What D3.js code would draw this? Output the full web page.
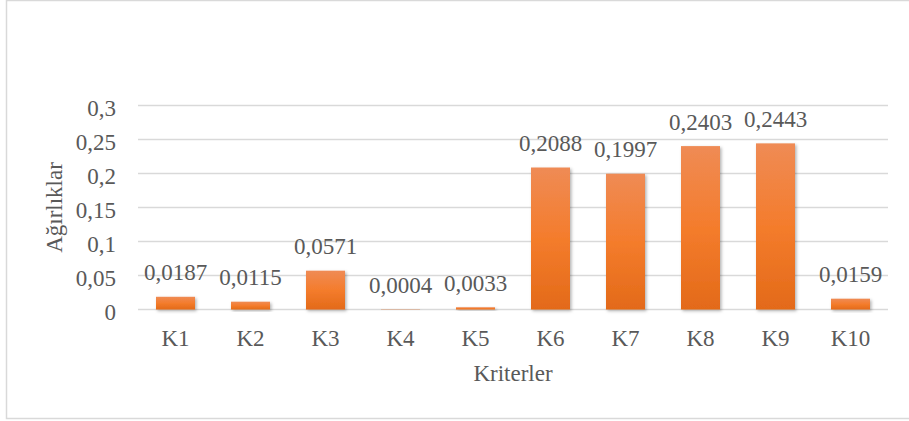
<!DOCTYPE html>
<html>
<head>
<meta charset="utf-8">
<script src="https://cdn.jsdelivr.net/npm/d3@7"></script>
<style>
  body { margin: 0; background: #fff; }
</style>
</head>
<body>
<script>
var categories = ["K1", "K2", "K3", "K4", "K5", "K6", "K7", "K8", "K9", "K10"];
var weights = [0.0187, 0.0115, 0.0571, 0.0004, 0.0033, 0.2088, 0.1997, 0.2403, 0.2443, 0.0159];
var yTicks = [0, 0.05, 0.1, 0.15, 0.2, 0.25, 0.3];
var xTitle = "Kriterler";
var yTitle = "Ağırlıklar";

var width = 909, height = 421;
var margin = {top: 105.5, right: 21, bottom: 111.5, left: 138};
var fontSize = 23;
var comma = function (v) { return String(v).replace(".", ","); };

var svg = d3.select("body").append("svg")
    .attr("width", width)
    .attr("height", height);

var defs = svg.append("defs");
var grad = defs.append("linearGradient")
    .attr("id", "barGrad")
    .attr("x1", 0).attr("y1", 0).attr("x2", 0).attr("y2", 1);
grad.append("stop").attr("offset", "0%").attr("stop-color", "#EF8B55");
grad.append("stop").attr("offset", "50%").attr("stop-color", "#F47C2C");
grad.append("stop").attr("offset", "100%").attr("stop-color", "#E36A19");

var shadow = defs.append("filter")
    .attr("id", "shadow")
    .attr("x", "-20%").attr("y", "-20%").attr("width", "150%").attr("height", "150%");
shadow.append("feDropShadow")
    .attr("dx", 1.5).attr("dy", 1.5)
    .attr("stdDeviation", 1.5)
    .attr("flood-color", "#000")
    .attr("flood-opacity", 0.3);

// chart border
svg.append("rect")
    .attr("x", 6.5).attr("y", 0.5)
    .attr("width", width + 10).attr("height", 418)
    .attr("fill", "none")
    .attr("stroke", "#D9D9D9")
    .attr("stroke-width", 1.5);

var x = d3.scaleBand()
    .domain(categories)
    .range([margin.left, width - margin.right])
    .paddingInner(0.48)
    .paddingOuter(0.24);

var y = d3.scaleLinear()
    .domain([0, 0.3])
    .range([height - margin.bottom, margin.top]);

function label(g, tx, ty, txt, anchor, rotate) {
    return g.append("text")
        .attr("x", rotate ? 0 : tx)
        .attr("y", rotate ? 0 : ty)
        .attr("transform", rotate ? "translate(" + tx + "," + ty + ") rotate(-90)" : null)
        .attr("text-anchor", anchor)
        .attr("font-size", fontSize)
        .attr("fill", "#595959")
        .style("font-family", "'Liberation Serif', serif")
        .text(txt);
}

// gridlines
var grid = svg.append("g");
grid.selectAll("line")
    .data(yTicks)
    .enter().append("line")
    .attr("x1", margin.left)
    .attr("x2", width - margin.right)
    .attr("y1", function (d) { return y(d); })
    .attr("y2", function (d) { return y(d); })
    .attr("stroke", "#D9D9D9")
    .attr("stroke-width", 1.5);

// y tick labels
var yl = svg.append("g");
yTicks.forEach(function (t) {
    label(yl, 116, y(t) + 10, comma(t), "end");
});

// bars
svg.append("g").selectAll("rect")
    .data(weights)
    .enter().append("rect")
    .attr("x", function (d, i) { return x(categories[i]); })
    .attr("y", function (d) { return y(d); })
    .attr("width", x.bandwidth())
    .attr("height", function (d) { return y(0) - y(d); })
    .attr("fill", "url(#barGrad)")
    .attr("filter", "url(#shadow)");

// value labels
var vl = svg.append("g");
weights.forEach(function (d, i) {
    label(vl, x(categories[i]) + x.bandwidth() / 2, y(d) - 16.5, comma(d), "middle");
});

// category labels
var cl = svg.append("g");
categories.forEach(function (c) {
    label(cl, x(c) + x.bandwidth() / 2, y(0) + 36.5, c, "middle");
});

// axis titles
label(svg, (margin.left + width - margin.right) / 2, 381, xTitle, "middle");
label(svg, 62, (y(0) + y(0.3)) / 2, yTitle, "middle", true);
</script>
</body>
</html>
